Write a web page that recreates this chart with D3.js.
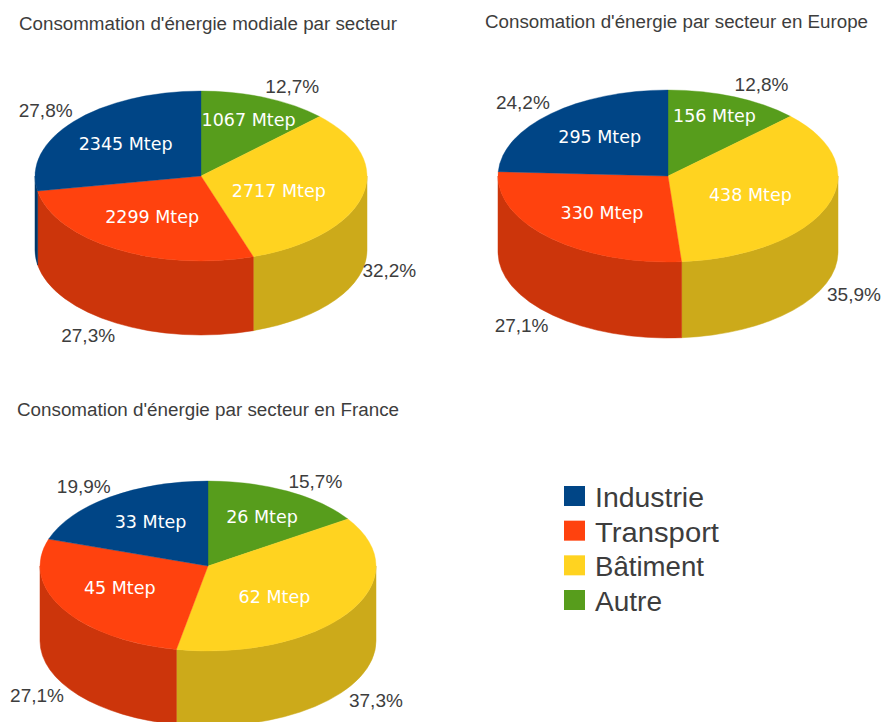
<!DOCTYPE html>
<html>
<head>
<meta charset="utf-8">
<script src="https://cdn.jsdelivr.net/npm/d3@7/dist/d3.min.js"></script>
<style>
  body { margin: 0; background: #fff; }
  svg { display: block; }
  text { font-family: "Liberation Sans", sans-serif; fill: #3d3d3d; }
  .value { font-family: "DejaVu Sans", sans-serif; font-size: 17.5px; fill: #fff; text-anchor: middle; dominant-baseline: central; }
  .percent { font-size: 19px; text-anchor: middle; dominant-baseline: central; }
  .title { font-size: 18px; }
  .legend { font-size: 27.5px; }
</style>
</head>
<body>
<script>
// slices are listed clockwise from 12 o'clock, like the original
const drawOrder = ["Autre", "Bâtiment", "Transport", "Industrie"];
const legendOrder = ["Industrie", "Transport", "Bâtiment", "Autre"];

const worldValues = [1067, 2717, 2299, 2345];
const europeValues = [156, 438, 330, 295];
const franceValues = [26, 62, 45, 33];

const topColors = d3.scaleOrdinal()
  .domain(legendOrder)
  .range(["#004586", "#ff420e", "#ffd320", "#579d1c"]);
const sideColors = d3.scaleOrdinal()
  .domain(legendOrder)
  .range(["#00386b", "#cc350b", "#ccaa1a", "#467e16"]);

// the original text is a bit wider than the font gives, so the widths are forced
const legendWidths = [109, 124, 109, 67];

const pies = [
  {
    title: "Consommation d'énergie modiale par secteur", titleX: 19, titleY: 30, titleWidth: 378,
    values: worldValues, cx: 201, cy: 176, rx: 166, ry: 85, depth: 74,
    // label tweaks, px away from the default anchor of each slice
    valueNudge: [[9, -9], [-19, 3], [2, -3], [1, 1]],
    percentDx: [27, 27, -28, -28],
    percentDy: [-11, 75, 86, -11]
  },
  {
    title: "Consomation d'énergie par secteur en Europe", titleX: 485, titleY: 28, titleWidth: 383,
    values: europeValues, cx: 668, cy: 176, rx: 170, ry: 86, depth: 76,
    valueNudge: [[6.6, -12.5], [-13, 0.4], [5, 0], [2, -1.6]],
    percentDx: [27, 27, -28, -28],
    percentDy: [-12, 88, 88, -11]
  },
  {
    title: "Consomation d'énergie par secteur en France", titleX: 17, titleY: 416, titleWidth: 382,
    values: franceValues, cx: 208, cy: 566, rx: 168, ry: 85, depth: 75,
    valueNudge: [[6.4, -4], [-17.5, 2.5], [-1.3, -3.7], [1.5, -2.6]],
    percentDx: [28, 28, -26, -26],
    percentDy: [-10, 87, 87, -11]
  }
];

const frLocale = d3.formatLocale({ decimal: ",", thousands: " ", grouping: [3], currency: ["", "€"], percent: "%" });
const formatPercent = frLocale.format(".1%");

const svg = d3.select("body").append("svg")
  .attr("width", 882)
  .attr("height", 722);

function drawSide(g, d, p, x, y) {
  // only the front half of the cylinder wall can be seen
  const a0 = Math.max(d.startAngle, Math.PI / 2);
  const a1 = Math.min(d.endAngle, Math.PI * 1.5);
  if (a1 <= a0) return;

  const x0 = x(Math.sin(a0)), y0 = y(-Math.cos(a0));
  const x1 = x(Math.sin(a1)), y1 = y(-Math.cos(a1));
  const path = `M${x0},${y0}A${p.rx},${p.ry} 0 0 1 ${x1},${y1}` +
    `V${y1 + p.depth}A${p.rx},${p.ry} 0 0 0 ${x0},${y0 + p.depth}Z`;

  g.append("path")
    .attr("d", path)
    .attr("fill", sideColors(drawOrder[d.index]))
    .attr("stroke", sideColors(drawOrder[d.index]))
    .attr("stroke-width", 0.5);
}

function drawPie(p) {
  const g = svg.append("g");
  const total = d3.sum(p.values);
  const x = d3.scaleLinear().domain([-1, 1]).range([p.cx - p.rx, p.cx + p.rx]);
  const y = d3.scaleLinear().domain([-1, 1]).range([p.cy - p.ry, p.cy + p.ry]);

  const slices = d3.pie().sort(null)(p.values);
  const arc = d3.arc().innerRadius(0).outerRadius(100);

  slices.forEach(d => drawSide(g, d, p, x, y));

  g.append("g")
    .attr("transform", `translate(${p.cx},${p.cy}) scale(${p.rx / 100},${p.ry / 100})`)
    .selectAll("path")
    .data(slices)
    .enter()
    .append("path")
    .attr("d", arc)
    .attr("fill", d => topColors(drawOrder[d.index]))
    .attr("stroke", d => topColors(drawOrder[d.index]))
    .attr("stroke-width", 0.3);

  const mid = d => (d.startAngle + d.endAngle) / 2;

  g.selectAll(".value")
    .data(slices)
    .enter()
    .append("text")
    .attr("class", "value")
    .attr("x", (d, i) => x(0.6 * Math.sin(mid(d))) + p.valueNudge[i][0])
    .attr("y", (d, i) => y(-0.6 * Math.cos(mid(d))) + p.valueNudge[i][1])
    .text(d => d.value + " Mtep");

  g.selectAll(".percent")
    .data(slices)
    .enter()
    .append("text")
    .attr("class", "percent")
    .attr("x", (d, i) => x(Math.sin(mid(d))) + p.percentDx[i])
    .attr("y", (d, i) => y(-Math.cos(mid(d))) + p.percentDy[i])
    .text(d => formatPercent(d.value / total));

  svg.append("text")
    .attr("class", "title")
    .attr("x", p.titleX)
    .attr("y", p.titleY)
    .attr("textLength", p.titleWidth)
    .attr("lengthAdjust", "spacingAndGlyphs")
    .text(p.title);
}

pies.forEach(drawPie);

// legend
const legendY = d3.scalePoint().domain(legendOrder).range([486, 590]);

const legend = svg.append("g").selectAll("g")
  .data(legendOrder)
  .enter()
  .append("g")
  .attr("transform", d => `translate(564,${legendY(d)})`);

legend.append("rect")
  .attr("width", 21)
  .attr("height", 20)
  .attr("fill", d => topColors(d));

legend.append("text")
  .attr("class", "legend")
  .attr("x", 31)
  .attr("y", 21)
  .attr("textLength", (d, i) => legendWidths[i])
  .attr("lengthAdjust", "spacingAndGlyphs")
  .text(d => d);
</script>
</body>
</html>
